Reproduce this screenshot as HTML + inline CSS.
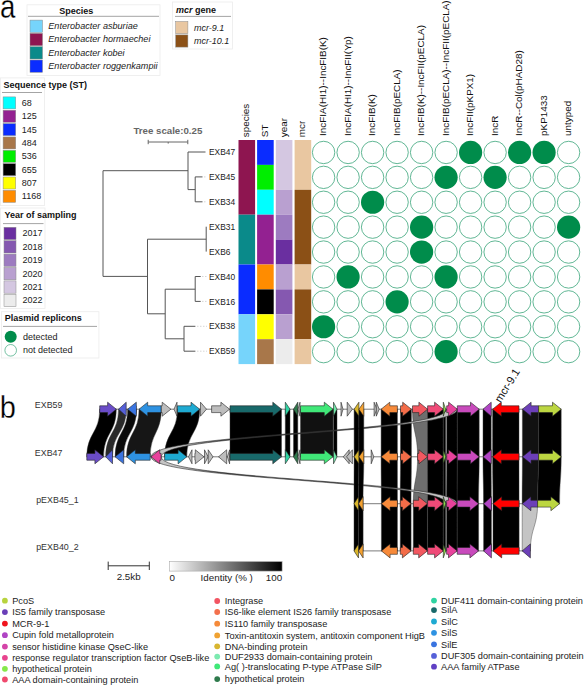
<!DOCTYPE html>
<html><head><meta charset="utf-8"><style>
html,body{margin:0;padding:0;background:#fff;width:584px;height:685px;overflow:hidden}
svg{display:block}
text{font-family:"Liberation Sans",sans-serif}
</style></head><body>
<svg width="584" height="685" viewBox="0 0 584 685" font-family="Liberation Sans, sans-serif">
<text transform="translate(0,17.9) scale(0.85,1)" x="0" y="0" font-size="32.5" fill="#000" stroke="#fff" stroke-width="0.3">a</text>
<rect x="27" y="4.8" width="133" height="70.7" fill="#fff" stroke="#ececec" stroke-width="0.8"/>
<text x="76.3" y="13.8" font-size="9" font-weight="bold" text-anchor="middle" fill="#111">Species</text>
<line x1="28" y1="16.3" x2="159" y2="16.3" stroke="#9a9a9a" stroke-width="0.9"/>
<rect x="30" y="20.1" width="12.5" height="12.3" fill="#76d4fb" stroke="#8a8a8a" stroke-width="0.5"/>
<text x="48.3" y="28.8" font-size="9.1" font-style="italic" fill="#222">Enterobacter asburiae</text>
<rect x="30" y="33.4" width="12.5" height="12.3" fill="#8e1550" stroke="#8a8a8a" stroke-width="0.5"/>
<text x="48.3" y="42.15" font-size="9.1" font-style="italic" fill="#222">Enterobacter hormaechei</text>
<rect x="30" y="46.7" width="12.5" height="12.3" fill="#0a8a8a" stroke="#8a8a8a" stroke-width="0.5"/>
<text x="48.3" y="55.5" font-size="9.1" font-style="italic" fill="#222">Enterobacter kobei</text>
<rect x="30" y="60" width="12.5" height="12.3" fill="#0a2cff" stroke="#8a8a8a" stroke-width="0.5"/>
<text x="48.3" y="68.85" font-size="9.1" font-style="italic" fill="#222">Enterobacter roggenkampii</text>
<rect x="172.5" y="2" width="60" height="47" fill="#fff" stroke="#ececec" stroke-width="0.8"/>
<text x="176" y="12.7" font-size="9" font-weight="bold" fill="#111"><tspan font-style="italic">mcr</tspan> gene</text>
<line x1="175" y1="16.4" x2="231" y2="16.4" stroke="#9a9a9a" stroke-width="0.9"/>
<rect x="175.7" y="21.5" width="12.2" height="12.2" fill="#e9c7a1" stroke="#8a8a8a" stroke-width="0.5"/>
<text x="194" y="30.6" font-size="9" font-style="italic" fill="#222">mcr-9.1</text>
<rect x="175.7" y="34.9" width="12.2" height="12.2" fill="#8b5016" stroke="#8a8a8a" stroke-width="0.5"/>
<text x="194" y="44" font-size="9" font-style="italic" fill="#222">mcr-10.1</text>
<rect x="0.5" y="77.9" width="44" height="127.7" fill="#fff" stroke="#ececec" stroke-width="0.8"/>
<text x="3.6" y="87.6" font-size="9" font-weight="bold" fill="#111">Sequence type (ST)</text>
<line x1="2" y1="92.5" x2="42" y2="92.5" stroke="#9a9a9a" stroke-width="0.9"/>
<rect x="3.1" y="96.9" width="12.6" height="12" fill="#00ffff" stroke="#8a8a8a" stroke-width="0.5"/>
<text x="21.8" y="105.9" font-size="9" fill="#222">68</text>
<rect x="3.1" y="110.25" width="12.6" height="12" fill="#932191" stroke="#8a8a8a" stroke-width="0.5"/>
<text x="21.8" y="119.25" font-size="9" fill="#222">125</text>
<rect x="3.1" y="123.6" width="12.6" height="12" fill="#0a2cff" stroke="#8a8a8a" stroke-width="0.5"/>
<text x="21.8" y="132.6" font-size="9" fill="#222">145</text>
<rect x="3.1" y="136.95" width="12.6" height="12" fill="#a8774a" stroke="#8a8a8a" stroke-width="0.5"/>
<text x="21.8" y="145.95" font-size="9" fill="#222">484</text>
<rect x="3.1" y="150.3" width="12.6" height="12" fill="#00ee00" stroke="#8a8a8a" stroke-width="0.5"/>
<text x="21.8" y="159.3" font-size="9" fill="#222">536</text>
<rect x="3.1" y="163.65" width="12.6" height="12" fill="#000000" stroke="#8a8a8a" stroke-width="0.5"/>
<text x="21.8" y="172.65" font-size="9" fill="#222">655</text>
<rect x="3.1" y="177" width="12.6" height="12" fill="#ffff00" stroke="#8a8a8a" stroke-width="0.5"/>
<text x="21.8" y="186" font-size="9" fill="#222">807</text>
<rect x="3.1" y="190.35" width="12.6" height="12" fill="#ff8c00" stroke="#8a8a8a" stroke-width="0.5"/>
<text x="21.8" y="199.35" font-size="9" fill="#222">1168</text>
<rect x="0.5" y="208" width="44.5" height="100.5" fill="#fff" stroke="#ececec" stroke-width="0.8"/>
<text x="4.5" y="217.8" font-size="9" font-weight="bold" fill="#111">Year of sampling</text>
<line x1="3" y1="223.6" x2="43.5" y2="223.6" stroke="#9a9a9a" stroke-width="0.9"/>
<rect x="4" y="227.3" width="12" height="12.3" fill="#6a2fa0" stroke="#8a8a8a" stroke-width="0.5"/>
<text x="22.5" y="236.3" font-size="9" fill="#222">2017</text>
<rect x="4" y="240.7" width="12" height="12.3" fill="#8558b0" stroke="#8a8a8a" stroke-width="0.5"/>
<text x="22.5" y="249.7" font-size="9" fill="#222">2018</text>
<rect x="4" y="254.1" width="12" height="12.3" fill="#9d7bc0" stroke="#8a8a8a" stroke-width="0.5"/>
<text x="22.5" y="263.1" font-size="9" fill="#222">2019</text>
<rect x="4" y="267.5" width="12" height="12.3" fill="#b9a0d0" stroke="#8a8a8a" stroke-width="0.5"/>
<text x="22.5" y="276.5" font-size="9" fill="#222">2020</text>
<rect x="4" y="280.9" width="12" height="12.3" fill="#d4c7e1" stroke="#8a8a8a" stroke-width="0.5"/>
<text x="22.5" y="289.9" font-size="9" fill="#222">2021</text>
<rect x="4" y="294.3" width="12" height="12.3" fill="#ececec" stroke="#8a8a8a" stroke-width="0.5"/>
<text x="22.5" y="303.3" font-size="9" fill="#222">2022</text>
<rect x="1.5" y="311.7" width="97.4" height="46.3" fill="#fff" stroke="#ececec" stroke-width="0.8"/>
<text x="4.7" y="321.4" font-size="9" font-weight="bold" fill="#111">Plasmid replicons</text>
<line x1="3" y1="326.4" x2="97" y2="326.4" stroke="#9a9a9a" stroke-width="0.9"/>
<circle cx="10.7" cy="336.7" r="6" fill="#008c4b"/>
<circle cx="10.7" cy="350.3" r="5.8" fill="#fff" stroke="#3aa57a" stroke-width="0.7"/>
<text x="23" y="339.7" font-size="9" fill="#222">detected</text>
<text x="23" y="353.3" font-size="9" fill="#222">not detected</text>
<text x="133.4" y="134.3" font-size="9.7" font-weight="bold" fill="#666">Tree scale:0.25</text>
<line x1="148.2" y1="142" x2="187.8" y2="142" stroke="#666" stroke-width="1"/>
<line x1="148.2" y1="139.8" x2="148.2" y2="144.2" stroke="#666" stroke-width="1"/>
<line x1="187.8" y1="139.8" x2="187.8" y2="144.2" stroke="#666" stroke-width="1"/>
<line x1="168.2" y1="142" x2="168.2" y2="143.6" stroke="#666" stroke-width="1"/>
<line x1="103" y1="170.7" x2="103" y2="276.4" stroke="#555" stroke-width="1"/>
<line x1="103" y1="170.7" x2="188" y2="170.7" stroke="#555" stroke-width="1"/>
<line x1="188" y1="152" x2="188" y2="189.6" stroke="#555" stroke-width="1"/>
<line x1="188" y1="152" x2="205.5" y2="152" stroke="#555" stroke-width="1"/>
<line x1="188" y1="189.6" x2="195.2" y2="189.6" stroke="#555" stroke-width="1"/>
<line x1="195.2" y1="176.9" x2="195.2" y2="201.8" stroke="#555" stroke-width="1"/>
<line x1="195.2" y1="176.9" x2="202.5" y2="176.9" stroke="#555" stroke-width="1"/>
<line x1="195.2" y1="201.8" x2="202.5" y2="201.8" stroke="#555" stroke-width="1"/>
<line x1="103" y1="276.4" x2="147.5" y2="276.4" stroke="#555" stroke-width="1"/>
<line x1="147.5" y1="239.2" x2="147.5" y2="313.8" stroke="#555" stroke-width="1"/>
<line x1="147.5" y1="239.2" x2="206.2" y2="239.2" stroke="#555" stroke-width="1"/>
<line x1="206.2" y1="226.7" x2="206.2" y2="251.6" stroke="#555" stroke-width="1"/>
<line x1="147.5" y1="313.8" x2="165.2" y2="313.8" stroke="#555" stroke-width="1"/>
<line x1="165.2" y1="289.2" x2="165.2" y2="338.8" stroke="#555" stroke-width="1"/>
<line x1="165.2" y1="289.2" x2="195.2" y2="289.2" stroke="#555" stroke-width="1"/>
<line x1="195.2" y1="276.5" x2="195.2" y2="301.4" stroke="#555" stroke-width="1"/>
<line x1="195.2" y1="276.5" x2="200.7" y2="276.5" stroke="#555" stroke-width="1"/>
<line x1="195.2" y1="301.4" x2="200.7" y2="301.4" stroke="#555" stroke-width="1"/>
<line x1="165.2" y1="338.8" x2="184" y2="338.8" stroke="#555" stroke-width="1"/>
<line x1="184" y1="326.3" x2="184" y2="351.2" stroke="#555" stroke-width="1"/>
<line x1="184" y1="326.3" x2="195.4" y2="326.3" stroke="#555" stroke-width="1"/>
<line x1="184" y1="351.2" x2="195.4" y2="351.2" stroke="#555" stroke-width="1"/>
<line x1="204" y1="176.9" x2="207" y2="176.9" stroke="#ccc" stroke-width="0.8" stroke-dasharray="1.5,1.5"/>
<line x1="204" y1="201.8" x2="207" y2="201.8" stroke="#ccc" stroke-width="0.8" stroke-dasharray="1.5,1.5"/>
<line x1="202" y1="276.5" x2="207" y2="276.5" stroke="#ccc" stroke-width="0.8" stroke-dasharray="1.5,1.5"/>
<line x1="202" y1="301.4" x2="207" y2="301.4" stroke="#ccc" stroke-width="0.8" stroke-dasharray="1.5,1.5"/>
<line x1="197" y1="326.3" x2="207" y2="326.3" stroke="#ccc" stroke-width="0.8" stroke-dasharray="1.5,1.5"/>
<line x1="197" y1="351.2" x2="207" y2="351.2" stroke="#ccc" stroke-width="0.8" stroke-dasharray="1.5,1.5"/>
<text x="209" y="155.1" font-size="8.4" fill="#222">EXB47</text>
<text x="209" y="180" font-size="8.4" fill="#222">EXB45</text>
<text x="209" y="204.9" font-size="8.4" fill="#222">EXB34</text>
<text x="209" y="229.8" font-size="8.4" fill="#222">EXB31</text>
<text x="209" y="254.7" font-size="8.4" fill="#222">EXB6</text>
<text x="209" y="279.6" font-size="8.4" fill="#222">EXB40</text>
<text x="209" y="304.5" font-size="8.4" fill="#222">EXB16</text>
<text x="209" y="329.4" font-size="8.4" fill="#222">EXB38</text>
<text x="209" y="354.3" font-size="8.4" fill="#222">EXB59</text>
<rect x="238.5" y="140" width="16.6" height="74.7" fill="#8e1550"/>
<rect x="238.5" y="214.7" width="16.6" height="49.8" fill="#0a8a8a"/>
<rect x="238.5" y="264.5" width="16.6" height="49.8" fill="#0a2cff"/>
<rect x="238.5" y="314.3" width="16.6" height="49.8" fill="#76d4fb"/>
<rect x="257.1" y="140" width="16.6" height="24.9" fill="#0a2cff"/>
<rect x="257.1" y="164.9" width="16.6" height="24.9" fill="#00ee00"/>
<rect x="257.1" y="189.8" width="16.6" height="24.9" fill="#00ffff"/>
<rect x="257.1" y="214.7" width="16.6" height="49.8" fill="#932191"/>
<rect x="257.1" y="264.5" width="16.6" height="24.9" fill="#ff8c00"/>
<rect x="257.1" y="289.4" width="16.6" height="24.9" fill="#000000"/>
<rect x="257.1" y="314.3" width="16.6" height="24.9" fill="#ffff00"/>
<rect x="257.1" y="339.2" width="16.6" height="24.9" fill="#a8774a"/>
<rect x="275.8" y="140" width="16.6" height="49.8" fill="#d4c7e1"/>
<rect x="275.8" y="189.8" width="16.6" height="24.9" fill="#b9a0d0"/>
<rect x="275.8" y="214.7" width="16.6" height="24.9" fill="#9d7bc0"/>
<rect x="275.8" y="239.6" width="16.6" height="24.9" fill="#6a2fa0"/>
<rect x="275.8" y="264.5" width="16.6" height="24.9" fill="#b9a0d0"/>
<rect x="275.8" y="289.4" width="16.6" height="24.9" fill="#8558b0"/>
<rect x="275.8" y="314.3" width="16.6" height="24.9" fill="#b9a0d0"/>
<rect x="275.8" y="339.2" width="16.6" height="24.9" fill="#ececec"/>
<rect x="294.6" y="140" width="16.6" height="49.8" fill="#e9c7a1"/>
<rect x="294.6" y="189.8" width="16.6" height="74.7" fill="#8b5016"/>
<rect x="294.6" y="264.5" width="16.6" height="24.9" fill="#e9c7a1"/>
<rect x="294.6" y="289.4" width="16.6" height="49.8" fill="#8b5016"/>
<rect x="294.6" y="339.2" width="16.6" height="24.9" fill="#e9c7a1"/>
<text transform="translate(249.3,137.2) rotate(-90)" font-size="9.9" fill="#111">species</text>
<text transform="translate(267.9,137.2) rotate(-90)" font-size="9.9" fill="#111">ST</text>
<text transform="translate(286.6,137.2) rotate(-90)" font-size="9.9" fill="#111">year</text>
<text transform="translate(305.4,137.2) rotate(-90)" font-size="9.9" fill="#111">mcr</text>
<text transform="translate(326.1,135.9) rotate(-90)" font-size="9.9" fill="#111">IncFIA(HI1)--IncFIB(K)</text>
<text transform="translate(350.6,135.9) rotate(-90)" font-size="9.9" fill="#111">IncFIA(HI1)--IncFII(Yp)</text>
<text transform="translate(375.1,135.9) rotate(-90)" font-size="9.9" fill="#111">IncFIB(K)</text>
<text transform="translate(399.6,135.9) rotate(-90)" font-size="9.9" fill="#111">IncFIB(pECLA)</text>
<text transform="translate(424.1,135.9) rotate(-90)" font-size="9.9" fill="#111">IncFIB(K)--IncFII(pECLA)</text>
<text transform="translate(448.6,135.9) rotate(-90)" font-size="9.9" fill="#111">IncFIB(pECLA)--IncFII(pECLA)</text>
<text transform="translate(473.1,135.9) rotate(-90)" font-size="9.9" fill="#111">IncFII(pKPX1)</text>
<text transform="translate(497.6,135.9) rotate(-90)" font-size="9.9" fill="#111">IncR</text>
<text transform="translate(522.1,135.9) rotate(-90)" font-size="9.9" fill="#111">IncR--Col(pHAD28)</text>
<text transform="translate(546.6,135.9) rotate(-90)" font-size="9.9" fill="#111">pKP1433</text>
<text transform="translate(571.1,135.9) rotate(-90)" font-size="9.9" fill="#111">untyped</text>
<circle cx="323.6" cy="152.45" r="11.2" fill="#fff" stroke="#3aa57a" stroke-width="0.8"/>
<circle cx="348.1" cy="152.45" r="11.2" fill="#fff" stroke="#3aa57a" stroke-width="0.8"/>
<circle cx="372.6" cy="152.45" r="11.2" fill="#fff" stroke="#3aa57a" stroke-width="0.8"/>
<circle cx="397.1" cy="152.45" r="11.2" fill="#fff" stroke="#3aa57a" stroke-width="0.8"/>
<circle cx="421.6" cy="152.45" r="11.2" fill="#fff" stroke="#3aa57a" stroke-width="0.8"/>
<circle cx="446.1" cy="152.45" r="11.2" fill="#fff" stroke="#3aa57a" stroke-width="0.8"/>
<circle cx="470.6" cy="152.45" r="11.6" fill="#008c4b"/>
<circle cx="495.1" cy="152.45" r="11.2" fill="#fff" stroke="#3aa57a" stroke-width="0.8"/>
<circle cx="519.6" cy="152.45" r="11.6" fill="#008c4b"/>
<circle cx="544.1" cy="152.45" r="11.6" fill="#008c4b"/>
<circle cx="568.6" cy="152.45" r="11.2" fill="#fff" stroke="#3aa57a" stroke-width="0.8"/>
<circle cx="323.6" cy="177.35" r="11.2" fill="#fff" stroke="#3aa57a" stroke-width="0.8"/>
<circle cx="348.1" cy="177.35" r="11.2" fill="#fff" stroke="#3aa57a" stroke-width="0.8"/>
<circle cx="372.6" cy="177.35" r="11.2" fill="#fff" stroke="#3aa57a" stroke-width="0.8"/>
<circle cx="397.1" cy="177.35" r="11.2" fill="#fff" stroke="#3aa57a" stroke-width="0.8"/>
<circle cx="421.6" cy="177.35" r="11.2" fill="#fff" stroke="#3aa57a" stroke-width="0.8"/>
<circle cx="446.1" cy="177.35" r="11.6" fill="#008c4b"/>
<circle cx="470.6" cy="177.35" r="11.2" fill="#fff" stroke="#3aa57a" stroke-width="0.8"/>
<circle cx="495.1" cy="177.35" r="11.6" fill="#008c4b"/>
<circle cx="519.6" cy="177.35" r="11.2" fill="#fff" stroke="#3aa57a" stroke-width="0.8"/>
<circle cx="544.1" cy="177.35" r="11.2" fill="#fff" stroke="#3aa57a" stroke-width="0.8"/>
<circle cx="568.6" cy="177.35" r="11.2" fill="#fff" stroke="#3aa57a" stroke-width="0.8"/>
<circle cx="323.6" cy="202.25" r="11.2" fill="#fff" stroke="#3aa57a" stroke-width="0.8"/>
<circle cx="348.1" cy="202.25" r="11.2" fill="#fff" stroke="#3aa57a" stroke-width="0.8"/>
<circle cx="372.6" cy="202.25" r="11.6" fill="#008c4b"/>
<circle cx="397.1" cy="202.25" r="11.2" fill="#fff" stroke="#3aa57a" stroke-width="0.8"/>
<circle cx="421.6" cy="202.25" r="11.2" fill="#fff" stroke="#3aa57a" stroke-width="0.8"/>
<circle cx="446.1" cy="202.25" r="11.2" fill="#fff" stroke="#3aa57a" stroke-width="0.8"/>
<circle cx="470.6" cy="202.25" r="11.2" fill="#fff" stroke="#3aa57a" stroke-width="0.8"/>
<circle cx="495.1" cy="202.25" r="11.2" fill="#fff" stroke="#3aa57a" stroke-width="0.8"/>
<circle cx="519.6" cy="202.25" r="11.2" fill="#fff" stroke="#3aa57a" stroke-width="0.8"/>
<circle cx="544.1" cy="202.25" r="11.2" fill="#fff" stroke="#3aa57a" stroke-width="0.8"/>
<circle cx="568.6" cy="202.25" r="11.2" fill="#fff" stroke="#3aa57a" stroke-width="0.8"/>
<circle cx="323.6" cy="227.15" r="11.2" fill="#fff" stroke="#3aa57a" stroke-width="0.8"/>
<circle cx="348.1" cy="227.15" r="11.2" fill="#fff" stroke="#3aa57a" stroke-width="0.8"/>
<circle cx="372.6" cy="227.15" r="11.2" fill="#fff" stroke="#3aa57a" stroke-width="0.8"/>
<circle cx="397.1" cy="227.15" r="11.2" fill="#fff" stroke="#3aa57a" stroke-width="0.8"/>
<circle cx="421.6" cy="227.15" r="11.6" fill="#008c4b"/>
<circle cx="446.1" cy="227.15" r="11.2" fill="#fff" stroke="#3aa57a" stroke-width="0.8"/>
<circle cx="470.6" cy="227.15" r="11.2" fill="#fff" stroke="#3aa57a" stroke-width="0.8"/>
<circle cx="495.1" cy="227.15" r="11.2" fill="#fff" stroke="#3aa57a" stroke-width="0.8"/>
<circle cx="519.6" cy="227.15" r="11.2" fill="#fff" stroke="#3aa57a" stroke-width="0.8"/>
<circle cx="544.1" cy="227.15" r="11.2" fill="#fff" stroke="#3aa57a" stroke-width="0.8"/>
<circle cx="568.6" cy="227.15" r="11.6" fill="#008c4b"/>
<circle cx="323.6" cy="252.05" r="11.2" fill="#fff" stroke="#3aa57a" stroke-width="0.8"/>
<circle cx="348.1" cy="252.05" r="11.2" fill="#fff" stroke="#3aa57a" stroke-width="0.8"/>
<circle cx="372.6" cy="252.05" r="11.2" fill="#fff" stroke="#3aa57a" stroke-width="0.8"/>
<circle cx="397.1" cy="252.05" r="11.2" fill="#fff" stroke="#3aa57a" stroke-width="0.8"/>
<circle cx="421.6" cy="252.05" r="11.6" fill="#008c4b"/>
<circle cx="446.1" cy="252.05" r="11.2" fill="#fff" stroke="#3aa57a" stroke-width="0.8"/>
<circle cx="470.6" cy="252.05" r="11.2" fill="#fff" stroke="#3aa57a" stroke-width="0.8"/>
<circle cx="495.1" cy="252.05" r="11.2" fill="#fff" stroke="#3aa57a" stroke-width="0.8"/>
<circle cx="519.6" cy="252.05" r="11.2" fill="#fff" stroke="#3aa57a" stroke-width="0.8"/>
<circle cx="544.1" cy="252.05" r="11.2" fill="#fff" stroke="#3aa57a" stroke-width="0.8"/>
<circle cx="568.6" cy="252.05" r="11.2" fill="#fff" stroke="#3aa57a" stroke-width="0.8"/>
<circle cx="323.6" cy="276.95" r="11.2" fill="#fff" stroke="#3aa57a" stroke-width="0.8"/>
<circle cx="348.1" cy="276.95" r="11.6" fill="#008c4b"/>
<circle cx="372.6" cy="276.95" r="11.2" fill="#fff" stroke="#3aa57a" stroke-width="0.8"/>
<circle cx="397.1" cy="276.95" r="11.2" fill="#fff" stroke="#3aa57a" stroke-width="0.8"/>
<circle cx="421.6" cy="276.95" r="11.2" fill="#fff" stroke="#3aa57a" stroke-width="0.8"/>
<circle cx="446.1" cy="276.95" r="11.6" fill="#008c4b"/>
<circle cx="470.6" cy="276.95" r="11.2" fill="#fff" stroke="#3aa57a" stroke-width="0.8"/>
<circle cx="495.1" cy="276.95" r="11.2" fill="#fff" stroke="#3aa57a" stroke-width="0.8"/>
<circle cx="519.6" cy="276.95" r="11.2" fill="#fff" stroke="#3aa57a" stroke-width="0.8"/>
<circle cx="544.1" cy="276.95" r="11.2" fill="#fff" stroke="#3aa57a" stroke-width="0.8"/>
<circle cx="568.6" cy="276.95" r="11.2" fill="#fff" stroke="#3aa57a" stroke-width="0.8"/>
<circle cx="323.6" cy="301.85" r="11.2" fill="#fff" stroke="#3aa57a" stroke-width="0.8"/>
<circle cx="348.1" cy="301.85" r="11.2" fill="#fff" stroke="#3aa57a" stroke-width="0.8"/>
<circle cx="372.6" cy="301.85" r="11.2" fill="#fff" stroke="#3aa57a" stroke-width="0.8"/>
<circle cx="397.1" cy="301.85" r="11.6" fill="#008c4b"/>
<circle cx="421.6" cy="301.85" r="11.2" fill="#fff" stroke="#3aa57a" stroke-width="0.8"/>
<circle cx="446.1" cy="301.85" r="11.2" fill="#fff" stroke="#3aa57a" stroke-width="0.8"/>
<circle cx="470.6" cy="301.85" r="11.2" fill="#fff" stroke="#3aa57a" stroke-width="0.8"/>
<circle cx="495.1" cy="301.85" r="11.2" fill="#fff" stroke="#3aa57a" stroke-width="0.8"/>
<circle cx="519.6" cy="301.85" r="11.2" fill="#fff" stroke="#3aa57a" stroke-width="0.8"/>
<circle cx="544.1" cy="301.85" r="11.2" fill="#fff" stroke="#3aa57a" stroke-width="0.8"/>
<circle cx="568.6" cy="301.85" r="11.2" fill="#fff" stroke="#3aa57a" stroke-width="0.8"/>
<circle cx="323.6" cy="326.75" r="11.6" fill="#008c4b"/>
<circle cx="348.1" cy="326.75" r="11.2" fill="#fff" stroke="#3aa57a" stroke-width="0.8"/>
<circle cx="372.6" cy="326.75" r="11.2" fill="#fff" stroke="#3aa57a" stroke-width="0.8"/>
<circle cx="397.1" cy="326.75" r="11.2" fill="#fff" stroke="#3aa57a" stroke-width="0.8"/>
<circle cx="421.6" cy="326.75" r="11.2" fill="#fff" stroke="#3aa57a" stroke-width="0.8"/>
<circle cx="446.1" cy="326.75" r="11.2" fill="#fff" stroke="#3aa57a" stroke-width="0.8"/>
<circle cx="470.6" cy="326.75" r="11.2" fill="#fff" stroke="#3aa57a" stroke-width="0.8"/>
<circle cx="495.1" cy="326.75" r="11.2" fill="#fff" stroke="#3aa57a" stroke-width="0.8"/>
<circle cx="519.6" cy="326.75" r="11.2" fill="#fff" stroke="#3aa57a" stroke-width="0.8"/>
<circle cx="544.1" cy="326.75" r="11.2" fill="#fff" stroke="#3aa57a" stroke-width="0.8"/>
<circle cx="568.6" cy="326.75" r="11.2" fill="#fff" stroke="#3aa57a" stroke-width="0.8"/>
<circle cx="323.6" cy="351.65" r="11.2" fill="#fff" stroke="#3aa57a" stroke-width="0.8"/>
<circle cx="348.1" cy="351.65" r="11.2" fill="#fff" stroke="#3aa57a" stroke-width="0.8"/>
<circle cx="372.6" cy="351.65" r="11.2" fill="#fff" stroke="#3aa57a" stroke-width="0.8"/>
<circle cx="397.1" cy="351.65" r="11.2" fill="#fff" stroke="#3aa57a" stroke-width="0.8"/>
<circle cx="421.6" cy="351.65" r="11.2" fill="#fff" stroke="#3aa57a" stroke-width="0.8"/>
<circle cx="446.1" cy="351.65" r="11.6" fill="#008c4b"/>
<circle cx="470.6" cy="351.65" r="11.2" fill="#fff" stroke="#3aa57a" stroke-width="0.8"/>
<circle cx="495.1" cy="351.65" r="11.2" fill="#fff" stroke="#3aa57a" stroke-width="0.8"/>
<circle cx="519.6" cy="351.65" r="11.2" fill="#fff" stroke="#3aa57a" stroke-width="0.8"/>
<circle cx="544.1" cy="351.65" r="11.2" fill="#fff" stroke="#3aa57a" stroke-width="0.8"/>
<circle cx="568.6" cy="351.65" r="11.2" fill="#fff" stroke="#3aa57a" stroke-width="0.8"/>
<text transform="translate(-0.3,417.8) scale(0.92,1)" x="0" y="0" font-size="31.5" fill="#000" stroke="#fff" stroke-width="0.3">b</text>
<text x="34.8" y="408.1" font-size="8.9" fill="#333">EXB59</text>
<text x="34.8" y="455.7" font-size="8.9" fill="#333">EXB47</text>
<text x="36.2" y="502.6" font-size="8.9" fill="#333">pEXB45_1</text>
<text x="36.2" y="549.8" font-size="8.9" fill="#333">pEXB40_2</text>
<path d="M99.7,409.2L116.3,409.2C116.3,433 103.6,433 103.6,456.8L86.8,456.8C86.8,433 99.7,433 99.7,409.2Z" fill="#000" stroke="#3a3a3a" stroke-width="0.45"/>
<path d="M118.5,409.2L126.2,409.2C126.2,433 112.5,433 112.5,456.8L105.7,456.8C105.7,433 118.5,433 118.5,409.2Z" fill="#2a2a2a" stroke="#3a3a3a" stroke-width="0.45"/>
<path d="M127.6,409.2L136.5,409.2C136.5,433 123.7,433 123.7,456.8L115.1,456.8C115.1,433 127.6,433 127.6,409.2Z" fill="#0a0a0a" stroke="#3a3a3a" stroke-width="0.45"/>
<path d="M139,409.2L161.3,409.2C161.3,433 150.2,433 150.2,456.8L126.6,456.8C126.6,433 139,433 139,409.2Z" fill="#161616" stroke="#3a3a3a" stroke-width="0.45"/>
<path d="M177.4,409.2L199.7,409.2C199.7,433 186.8,433 186.8,456.8L164.6,456.8C164.6,433 177.4,433 177.4,409.2Z" fill="#000" stroke="#3a3a3a" stroke-width="0.45"/>
<path d="M230,409.2L281.5,409.2C281.5,433 281.5,433 281.5,456.8L230,456.8C230,433 230,433 230,409.2Z" fill="#000" stroke="#3a3a3a" stroke-width="0.45"/>
<path d="M285.3,409.2L290,409.2C290,433 290,433 290,456.8L285.3,456.8C285.3,433 285.3,433 285.3,409.2Z" fill="#000" stroke="#3a3a3a" stroke-width="0.45"/>
<path d="M293.5,409.2L297.8,409.2C297.8,433 297.8,433 297.8,456.8L293.5,456.8C293.5,433 293.5,433 293.5,409.2Z" fill="#000" stroke="#3a3a3a" stroke-width="0.45"/>
<path d="M300.5,409.2L333,409.2C333,433 333,433 333,456.8L300.5,456.8C300.5,433 300.5,433 300.5,409.2Z" fill="#111" stroke="#3a3a3a" stroke-width="0.45"/>
<path d="M333.5,409.2L337,409.2C337,433 337,433 337,456.8L333.5,456.8C333.5,433 333.5,433 333.5,409.2Z" fill="#000" stroke="#3a3a3a" stroke-width="0.45"/>
<path d="M381.1,409.2L397.4,409.2C397.4,433 397.4,433 397.4,456.8L381.1,456.8C381.1,433 381.1,433 381.1,409.2Z" fill="#000" stroke="#3a3a3a" stroke-width="0.45"/>
<path d="M400.5,409.2L411.4,409.2C411.4,433 411.4,433 411.4,456.8L400.5,456.8C400.5,433 400.5,433 400.5,409.2Z" fill="#000" stroke="#3a3a3a" stroke-width="0.45"/>
<path d="M412.5,409.2L427.6,409.2C427.6,433 427.6,433 427.6,456.8L417.6,456.8C417.6,433 412.5,433 412.5,409.2Z" fill="#6e6e6e" stroke="#3a3a3a" stroke-width="0.45"/>
<path d="M427.6,409.2L443.3,409.2C443.3,433 443.3,433 443.3,456.8L427.6,456.8C427.6,433 427.6,433 427.6,409.2Z" fill="#000" stroke="#3a3a3a" stroke-width="0.45"/>
<path d="M443.3,409.2L445.7,409.2C445.7,433 445.7,433 445.7,456.8L443.3,456.8C443.3,433 443.3,433 443.3,409.2Z" fill="#000" stroke="#3a3a3a" stroke-width="0.45"/>
<path d="M446.7,409.2L457.3,409.2C457.3,433 457.3,433 457.3,456.8L446.7,456.8C446.7,433 446.7,433 446.7,409.2Z" fill="#000" stroke="#3a3a3a" stroke-width="0.45"/>
<path d="M457.3,409.2L479.2,409.2C479.2,433 479.2,433 479.2,456.8L457.3,456.8C457.3,433 457.3,433 457.3,409.2Z" fill="#000" stroke="#3a3a3a" stroke-width="0.45"/>
<path d="M483,409.2L491.2,409.2C491.2,433 491.2,433 491.2,456.8L483,456.8C483,433 483,433 483,409.2Z" fill="#000" stroke="#3a3a3a" stroke-width="0.45"/>
<path d="M492.6,409.2L519,409.2C519,433 519,433 519,456.8L492.6,456.8C492.6,433 492.6,433 492.6,409.2Z" fill="#000" stroke="#3a3a3a" stroke-width="0.45"/>
<path d="M522.4,409.2L538.6,409.2C538.6,433 538.6,433 538.6,456.8L522.4,456.8C522.4,433 522.4,433 522.4,409.2Z" fill="#111" stroke="#3a3a3a" stroke-width="0.45"/>
<path d="M538.6,409.2L561.2,409.2C561.2,433 561.2,433 561.2,456.8L538.6,456.8C538.6,433 538.6,433 538.6,409.2Z" fill="#000" stroke="#3a3a3a" stroke-width="0.45"/>
<path d="M381.1,456.8L397.4,456.8C397.4,480.25 397.4,480.25 397.4,503.7L381.4,503.7C381.4,480.25 381.1,480.25 381.1,456.8Z" fill="#000" stroke="#3a3a3a" stroke-width="0.45"/>
<path d="M400.5,456.8L411.4,456.8C411.4,480.25 411.1,480.25 411.1,503.7L400.3,503.7C400.3,480.25 400.5,480.25 400.5,456.8Z" fill="#000" stroke="#3a3a3a" stroke-width="0.45"/>
<path d="M417.6,456.8L427.6,456.8C427.6,480.25 427.4,480.25 427.4,503.7L413.3,503.7C413.3,480.25 417.6,480.25 417.6,456.8Z" fill="#6e6e6e" stroke="#3a3a3a" stroke-width="0.45"/>
<path d="M427.6,456.8L443.3,456.8C443.3,480.25 443.3,480.25 443.3,503.7L427.6,503.7C427.6,480.25 427.6,480.25 427.6,456.8Z" fill="#000" stroke="#3a3a3a" stroke-width="0.45"/>
<path d="M443.3,456.8L445.7,456.8C445.7,480.25 445.7,480.25 445.7,503.7L443.3,503.7C443.3,480.25 443.3,480.25 443.3,456.8Z" fill="#000" stroke="#3a3a3a" stroke-width="0.45"/>
<path d="M446.7,456.8L457.3,456.8C457.3,480.25 457.2,480.25 457.2,503.7L446.6,503.7C446.6,480.25 446.7,480.25 446.7,456.8Z" fill="#000" stroke="#3a3a3a" stroke-width="0.45"/>
<path d="M457.3,456.8L479.2,456.8C479.2,480.25 478.6,480.25 478.6,503.7L457.2,503.7C457.2,480.25 457.3,480.25 457.3,456.8Z" fill="#000" stroke="#3a3a3a" stroke-width="0.45"/>
<path d="M483,456.8L491.2,456.8C491.2,480.25 491.4,480.25 491.4,503.7L483.6,503.7C483.6,480.25 483,480.25 483,456.8Z" fill="#000" stroke="#3a3a3a" stroke-width="0.45"/>
<path d="M492.6,456.8L519,456.8C519,480.25 519.1,480.25 519.1,503.7L493,503.7C493,480.25 492.6,480.25 492.6,456.8Z" fill="#000" stroke="#3a3a3a" stroke-width="0.45"/>
<path d="M522.4,456.8L538.6,456.8C538.6,480.25 537.6,480.25 537.6,503.7L522.2,503.7C522.2,480.25 522.4,480.25 522.4,456.8Z" fill="#111" stroke="#3a3a3a" stroke-width="0.45"/>
<path d="M538.6,456.8L561.2,456.8C561.2,480.25 559.6,480.25 559.6,503.7L537.6,503.7C537.6,480.25 538.6,480.25 538.6,456.8Z" fill="#000" stroke="#3a3a3a" stroke-width="0.45"/>
<path d="M381.4,503.7L397.4,503.7C397.4,527.3 397.4,527.3 397.4,550.9L381.4,550.9C381.4,527.3 381.4,527.3 381.4,503.7Z" fill="#000" stroke="#3a3a3a" stroke-width="0.45"/>
<path d="M400.3,503.7L411.1,503.7C411.1,527.3 411.1,527.3 411.1,550.9L400.3,550.9C400.3,527.3 400.3,527.3 400.3,503.7Z" fill="#000" stroke="#3a3a3a" stroke-width="0.45"/>
<path d="M413.3,503.7L427.4,503.7C427.4,527.3 427.4,527.3 427.4,550.9L413.3,550.9C413.3,527.3 413.3,527.3 413.3,503.7Z" fill="#000" stroke="#3a3a3a" stroke-width="0.45"/>
<path d="M427.6,503.7L443.3,503.7C443.3,527.3 443.3,527.3 443.3,550.9L427.6,550.9C427.6,527.3 427.6,527.3 427.6,503.7Z" fill="#000" stroke="#3a3a3a" stroke-width="0.45"/>
<path d="M443.3,503.7L445.7,503.7C445.7,527.3 445.7,527.3 445.7,550.9L443.3,550.9C443.3,527.3 443.3,527.3 443.3,503.7Z" fill="#000" stroke="#3a3a3a" stroke-width="0.45"/>
<path d="M446.6,503.7L457.2,503.7C457.2,527.3 457.2,527.3 457.2,550.9L446.6,550.9C446.6,527.3 446.6,527.3 446.6,503.7Z" fill="#000" stroke="#3a3a3a" stroke-width="0.45"/>
<path d="M457.2,503.7L478.6,503.7C478.6,527.3 478.6,527.3 478.6,550.9L457.2,550.9C457.2,527.3 457.2,527.3 457.2,503.7Z" fill="#000" stroke="#3a3a3a" stroke-width="0.45"/>
<path d="M483.6,503.7L491.4,503.7C491.4,527.3 491.4,527.3 491.4,550.9L483.6,550.9C483.6,527.3 483.6,527.3 483.6,503.7Z" fill="#000" stroke="#3a3a3a" stroke-width="0.45"/>
<path d="M493,503.7L519.1,503.7C519.1,527.3 519.1,527.3 519.1,550.9L493,550.9C493,527.3 493,527.3 493,503.7Z" fill="#000" stroke="#3a3a3a" stroke-width="0.45"/>
<path d="M522.2,503.7L537.6,503.7C537.6,527.3 530.4,527.3 530.4,550.9L522.2,550.9C522.2,527.3 522.2,527.3 522.2,503.7Z" fill="#c4c4c4" stroke="#3a3a3a" stroke-width="0.45"/>
<defs><linearGradient id="xg" gradientUnits="userSpaceOnUse" x1="151" y1="0" x2="457" y2="0"><stop offset="0" stop-color="#c4c4c4"/><stop offset="0.1" stop-color="#c4c4c4"/><stop offset="0.25" stop-color="#333"/><stop offset="0.68" stop-color="#333"/><stop offset="0.86" stop-color="#c4c4c4"/><stop offset="1" stop-color="#c4c4c4"/></linearGradient></defs>
<path d="M446.7,409.2L457.3,409.2C457.3,433 161.1,433 161.1,456.8L151,456.8C151,433 446.7,433 446.7,409.2Z" fill="url(#xg)" stroke="#333" stroke-width="0.6"/>
<path d="M151,456.8L161.1,456.8C161.1,480.25 457.2,480.25 457.2,503.7L446.6,503.7C446.6,480.25 151,480.25 151,456.8Z" fill="url(#xg)" stroke="#333" stroke-width="0.6"/>
<path d="M354.1,409.2L358.9,409.2C358.9,433 358.9,433 358.9,456.8L354.1,456.8C354.1,433 354.1,433 354.1,409.2Z" fill="#000" stroke="#3a3a3a" stroke-width="0.45"/>
<path d="M358.9,409.2L363.8,409.2C363.8,433 363.8,433 363.8,456.8L358.9,456.8C358.9,433 358.9,433 358.9,409.2Z" fill="#000" stroke="#3a3a3a" stroke-width="0.45"/>
<path d="M354.1,456.8L358.9,456.8C358.9,480.25 358.5,480.25 358.5,503.7L354,503.7C354,480.25 354.1,480.25 354.1,456.8Z" fill="#000" stroke="#3a3a3a" stroke-width="0.45"/>
<path d="M358.9,456.8L363.8,456.8C363.8,480.25 363.1,480.25 363.1,503.7L358.5,503.7C358.5,480.25 358.9,480.25 358.9,456.8Z" fill="#000" stroke="#3a3a3a" stroke-width="0.45"/>
<path d="M354,503.7L358.5,503.7C358.5,527.3 358.5,527.3 358.5,550.9L354,550.9C354,527.3 354,527.3 354,503.7Z" fill="#000" stroke="#3a3a3a" stroke-width="0.45"/>
<path d="M358.5,503.7L363.1,503.7C363.1,527.3 363.1,527.3 363.1,550.9L358.5,550.9C358.5,527.3 358.5,527.3 358.5,503.7Z" fill="#000" stroke="#3a3a3a" stroke-width="0.45"/>
<line x1="99.7" y1="409.2" x2="561.2" y2="409.2" stroke="#444" stroke-width="0.7"/>
<line x1="86.8" y1="456.8" x2="561.2" y2="456.8" stroke="#444" stroke-width="0.7"/>
<line x1="354" y1="503.7" x2="559.6" y2="503.7" stroke="#444" stroke-width="0.7"/>
<line x1="354" y1="550.9" x2="530.4" y2="550.9" stroke="#444" stroke-width="0.7"/>
<path d="M99.7,405.8L107.6,405.8L107.6,402.2L116.3,409.2L107.6,416.2L107.6,412.6L99.7,412.6Z" fill="#6a4cc8" stroke="#222" stroke-width="0.6" stroke-linejoin="miter"/>
<path d="M126.2,402.2L118.5,409.2L126.2,416.2Z" fill="#5560d8" stroke="#222" stroke-width="0.6" stroke-linejoin="miter"/>
<path d="M136.5,405.8L136.3,405.8L136.3,402.2L127.6,409.2L136.3,416.2L136.3,412.6L136.5,412.6Z" fill="#3a74e0" stroke="#222" stroke-width="0.6" stroke-linejoin="miter"/>
<path d="M161.3,405.8L147.7,405.8L147.7,402.2L139,409.2L147.7,416.2L147.7,412.6L161.3,412.6Z" fill="#2e92e2" stroke="#222" stroke-width="0.6" stroke-linejoin="miter"/>
<path d="M161.3,405.8L162.2,405.8L162.2,402.2L170.9,409.2L162.2,416.2L162.2,412.6L161.3,412.6Z" fill="#bdbdbd" stroke="#222" stroke-width="0.6" stroke-linejoin="miter"/>
<path d="M177,402.2L174,409.2L177,416.2Z" fill="#bdbdbd" stroke="#222" stroke-width="0.6" stroke-linejoin="miter"/>
<path d="M177.4,405.8L191,405.8L191,402.2L199.7,409.2L191,416.2L191,412.6L177.4,412.6Z" fill="#1eaad2" stroke="#222" stroke-width="0.6" stroke-linejoin="miter"/>
<path d="M200.5,402.2L206.5,409.2L200.5,416.2Z" fill="#bdbdbd" stroke="#222" stroke-width="0.6" stroke-linejoin="miter"/>
<path d="M211.6,405.8L220.9,405.8L220.9,402.2L229.6,409.2L220.9,416.2L220.9,412.6L211.6,412.6Z" fill="#bdbdbd" stroke="#222" stroke-width="0.6" stroke-linejoin="miter"/>
<path d="M230,405.8L272.8,405.8L272.8,402.2L281.5,409.2L272.8,416.2L272.8,412.6L230,412.6Z" fill="#18696a" stroke="#222" stroke-width="0.6" stroke-linejoin="miter"/>
<path d="M285.3,402.2L290,409.2L285.3,416.2Z" fill="#2fd3a2" stroke="#222" stroke-width="0.6" stroke-linejoin="miter"/>
<path d="M297.8,402.2L293.5,409.2L297.8,416.2Z" fill="#2e7a4c" stroke="#222" stroke-width="0.6" stroke-linejoin="miter"/>
<path d="M300,402.2L298,409.2L300,416.2Z" fill="#bdbdbd" stroke="#222" stroke-width="0.6" stroke-linejoin="miter"/>
<path d="M300.5,405.8L324.3,405.8L324.3,402.2L333,409.2L324.3,416.2L324.3,412.6L300.5,412.6Z" fill="#40e878" stroke="#222" stroke-width="0.6" stroke-linejoin="miter"/>
<path d="M333.5,402.2L337,409.2L333.5,416.2Z" fill="#70e8a8" stroke="#222" stroke-width="0.6" stroke-linejoin="miter"/>
<path d="M341,402.2L343,409.2L341,416.2Z" fill="#bdbdbd" stroke="#222" stroke-width="0.6" stroke-linejoin="miter"/>
<path d="M347.2,402.2L352.4,409.2L347.2,416.2Z" fill="#bdbdbd" stroke="#222" stroke-width="0.6" stroke-linejoin="miter"/>
<path d="M358.9,402.2L354.1,409.2L358.9,416.2Z" fill="#d9b62c" stroke="#222" stroke-width="0.6" stroke-linejoin="miter"/>
<path d="M363.8,402.2L358.9,409.2L363.8,416.2Z" fill="#f4a232" stroke="#222" stroke-width="0.6" stroke-linejoin="miter"/>
<path d="M374.1,402.2L377,409.2L374.1,416.2Z" fill="#bdbdbd" stroke="#222" stroke-width="0.6" stroke-linejoin="miter"/>
<path d="M376.3,402.2L379.2,409.2L376.3,416.2Z" fill="#bdbdbd" stroke="#222" stroke-width="0.6" stroke-linejoin="miter"/>
<path d="M397.4,405.8L389.8,405.8L389.8,402.2L381.1,409.2L389.8,416.2L389.8,412.6L397.4,412.6Z" fill="#f78a3a" stroke="#222" stroke-width="0.6" stroke-linejoin="miter"/>
<path d="M400.5,405.8L402.7,405.8L402.7,402.2L411.4,409.2L402.7,416.2L402.7,412.6L400.5,412.6Z" fill="#f36c48" stroke="#222" stroke-width="0.6" stroke-linejoin="miter"/>
<path d="M412.5,405.8L418.9,405.8L418.9,402.2L427.6,409.2L418.9,416.2L418.9,412.6L412.5,412.6Z" fill="#f25860" stroke="#222" stroke-width="0.6" stroke-linejoin="miter"/>
<path d="M427.6,405.8L434.6,405.8L434.6,402.2L443.3,409.2L434.6,416.2L434.6,412.6L427.6,412.6Z" fill="#f04a78" stroke="#222" stroke-width="0.6" stroke-linejoin="miter"/>
<path d="M443.3,402.2L445.7,409.2L443.3,416.2Z" fill="#8be04a" stroke="#222" stroke-width="0.6" stroke-linejoin="miter"/>
<path d="M446.7,405.8L448.6,405.8L448.6,402.2L457.3,409.2L448.6,416.2L448.6,412.6L446.7,412.6Z" fill="#e8429c" stroke="#222" stroke-width="0.6" stroke-linejoin="miter"/>
<path d="M457.3,405.8L470.5,405.8L470.5,402.2L479.2,409.2L470.5,416.2L470.5,412.6L457.3,412.6Z" fill="#c84abc" stroke="#222" stroke-width="0.6" stroke-linejoin="miter"/>
<path d="M491.2,402.2L483,409.2L491.2,416.2Z" fill="#b044c4" stroke="#222" stroke-width="0.6" stroke-linejoin="miter"/>
<path d="M519,405.8L501.3,405.8L501.3,402.2L492.6,409.2L501.3,416.2L501.3,412.6L519,412.6Z" fill="#ff0000" stroke="#222" stroke-width="0.6" stroke-linejoin="miter"/>
<path d="M538.6,405.8L531.1,405.8L531.1,402.2L522.4,409.2L531.1,416.2L531.1,412.6L538.6,412.6Z" fill="#6c3fb8" stroke="#222" stroke-width="0.6" stroke-linejoin="miter"/>
<path d="M538.6,405.8L552.5,405.8L552.5,402.2L561.2,409.2L552.5,416.2L552.5,412.6L538.6,412.6Z" fill="#bcd641" stroke="#222" stroke-width="0.6" stroke-linejoin="miter"/>
<path d="M86.8,453.4L94.9,453.4L94.9,449.8L103.6,456.8L94.9,463.8L94.9,460.2L86.8,460.2Z" fill="#6a4cc8" stroke="#222" stroke-width="0.6" stroke-linejoin="miter"/>
<path d="M112.5,449.8L105.7,456.8L112.5,463.8Z" fill="#5560d8" stroke="#222" stroke-width="0.6" stroke-linejoin="miter"/>
<path d="M123.7,449.8L115.1,456.8L123.7,463.8Z" fill="#3a74e0" stroke="#222" stroke-width="0.6" stroke-linejoin="miter"/>
<path d="M150.2,453.4L135.3,453.4L135.3,449.8L126.6,456.8L135.3,463.8L135.3,460.2L150.2,460.2Z" fill="#2e92e2" stroke="#222" stroke-width="0.6" stroke-linejoin="miter"/>
<path d="M161.1,453.4L159.7,453.4L159.7,449.8L151,456.8L159.7,463.8L159.7,460.2L161.1,460.2Z" fill="#e8429c" stroke="#222" stroke-width="0.6" stroke-linejoin="miter"/>
<path d="M164.6,453.4L178.1,453.4L178.1,449.8L186.8,456.8L178.1,463.8L178.1,460.2L164.6,460.2Z" fill="#1eaad2" stroke="#222" stroke-width="0.6" stroke-linejoin="miter"/>
<path d="M192,449.8L188.5,456.8L192,463.8Z" fill="#bdbdbd" stroke="#222" stroke-width="0.6" stroke-linejoin="miter"/>
<path d="M194.9,453.4L195.3,453.4L195.3,449.8L204,456.8L195.3,463.8L195.3,460.2L194.9,460.2Z" fill="#bdbdbd" stroke="#222" stroke-width="0.6" stroke-linejoin="miter"/>
<path d="M204.5,449.8L208.2,456.8L204.5,463.8Z" fill="#bdbdbd" stroke="#222" stroke-width="0.6" stroke-linejoin="miter"/>
<path d="M208.2,449.8L213,456.8L208.2,463.8Z" fill="#bdbdbd" stroke="#222" stroke-width="0.6" stroke-linejoin="miter"/>
<path d="M226.7,449.8L218.5,456.8L226.7,463.8Z" fill="#bdbdbd" stroke="#222" stroke-width="0.6" stroke-linejoin="miter"/>
<path d="M229.6,449.8L227.4,456.8L229.6,463.8Z" fill="#bdbdbd" stroke="#222" stroke-width="0.6" stroke-linejoin="miter"/>
<path d="M230,453.4L272.8,453.4L272.8,449.8L281.5,456.8L272.8,463.8L272.8,460.2L230,460.2Z" fill="#18696a" stroke="#222" stroke-width="0.6" stroke-linejoin="miter"/>
<path d="M285.3,449.8L290,456.8L285.3,463.8Z" fill="#2fd3a2" stroke="#222" stroke-width="0.6" stroke-linejoin="miter"/>
<path d="M297.8,449.8L293.5,456.8L297.8,463.8Z" fill="#2e7a4c" stroke="#222" stroke-width="0.6" stroke-linejoin="miter"/>
<path d="M300,449.8L298,456.8L300,463.8Z" fill="#bdbdbd" stroke="#222" stroke-width="0.6" stroke-linejoin="miter"/>
<path d="M300.5,453.4L324.3,453.4L324.3,449.8L333,456.8L324.3,463.8L324.3,460.2L300.5,460.2Z" fill="#40e878" stroke="#222" stroke-width="0.6" stroke-linejoin="miter"/>
<path d="M333.5,449.8L337,456.8L333.5,463.8Z" fill="#70e8a8" stroke="#222" stroke-width="0.6" stroke-linejoin="miter"/>
<path d="M349.2,449.8L343.3,456.8L349.2,463.8Z" fill="#bdbdbd" stroke="#222" stroke-width="0.6" stroke-linejoin="miter"/>
<path d="M352.4,449.8L346.5,456.8L352.4,463.8Z" fill="#bdbdbd" stroke="#222" stroke-width="0.6" stroke-linejoin="miter"/>
<path d="M358.9,449.8L354.1,456.8L358.9,463.8Z" fill="#d9b62c" stroke="#222" stroke-width="0.6" stroke-linejoin="miter"/>
<path d="M363.8,449.8L358.9,456.8L363.8,463.8Z" fill="#f4a232" stroke="#222" stroke-width="0.6" stroke-linejoin="miter"/>
<path d="M371.2,449.8L373.8,456.8L371.2,463.8Z" fill="#bdbdbd" stroke="#222" stroke-width="0.6" stroke-linejoin="miter"/>
<path d="M397.4,453.4L389.8,453.4L389.8,449.8L381.1,456.8L389.8,463.8L389.8,460.2L397.4,460.2Z" fill="#f78a3a" stroke="#222" stroke-width="0.6" stroke-linejoin="miter"/>
<path d="M400.5,453.4L402.7,453.4L402.7,449.8L411.4,456.8L402.7,463.8L402.7,460.2L400.5,460.2Z" fill="#f36c48" stroke="#222" stroke-width="0.6" stroke-linejoin="miter"/>
<path d="M417.6,453.4L418.9,453.4L418.9,449.8L427.6,456.8L418.9,463.8L418.9,460.2L417.6,460.2Z" fill="#f25860" stroke="#222" stroke-width="0.6" stroke-linejoin="miter"/>
<path d="M427.6,453.4L434.6,453.4L434.6,449.8L443.3,456.8L434.6,463.8L434.6,460.2L427.6,460.2Z" fill="#f04a78" stroke="#222" stroke-width="0.6" stroke-linejoin="miter"/>
<path d="M443.3,449.8L445.7,456.8L443.3,463.8Z" fill="#8be04a" stroke="#222" stroke-width="0.6" stroke-linejoin="miter"/>
<path d="M446.7,453.4L448.6,453.4L448.6,449.8L457.3,456.8L448.6,463.8L448.6,460.2L446.7,460.2Z" fill="#e8429c" stroke="#222" stroke-width="0.6" stroke-linejoin="miter"/>
<path d="M457.3,453.4L470.5,453.4L470.5,449.8L479.2,456.8L470.5,463.8L470.5,460.2L457.3,460.2Z" fill="#c84abc" stroke="#222" stroke-width="0.6" stroke-linejoin="miter"/>
<path d="M491.2,449.8L483,456.8L491.2,463.8Z" fill="#b044c4" stroke="#222" stroke-width="0.6" stroke-linejoin="miter"/>
<path d="M519,453.4L501.3,453.4L501.3,449.8L492.6,456.8L501.3,463.8L501.3,460.2L519,460.2Z" fill="#ff0000" stroke="#222" stroke-width="0.6" stroke-linejoin="miter"/>
<path d="M538.6,453.4L531.1,453.4L531.1,449.8L522.4,456.8L531.1,463.8L531.1,460.2L538.6,460.2Z" fill="#6c3fb8" stroke="#222" stroke-width="0.6" stroke-linejoin="miter"/>
<path d="M538.6,453.4L552.5,453.4L552.5,449.8L561.2,456.8L552.5,463.8L552.5,460.2L538.6,460.2Z" fill="#bcd641" stroke="#222" stroke-width="0.6" stroke-linejoin="miter"/>
<path d="M358.5,496.7L354,503.7L358.5,510.7Z" fill="#d9b62c" stroke="#222" stroke-width="0.6" stroke-linejoin="miter"/>
<path d="M363.1,496.7L358.5,503.7L363.1,510.7Z" fill="#f4a232" stroke="#222" stroke-width="0.6" stroke-linejoin="miter"/>
<path d="M397.4,500.3L390.1,500.3L390.1,496.7L381.4,503.7L390.1,510.7L390.1,507.1L397.4,507.1Z" fill="#f78a3a" stroke="#222" stroke-width="0.6" stroke-linejoin="miter"/>
<path d="M400.3,500.3L402.4,500.3L402.4,496.7L411.1,503.7L402.4,510.7L402.4,507.1L400.3,507.1Z" fill="#f36c48" stroke="#222" stroke-width="0.6" stroke-linejoin="miter"/>
<path d="M413.3,500.3L418.7,500.3L418.7,496.7L427.4,503.7L418.7,510.7L418.7,507.1L413.3,507.1Z" fill="#f25860" stroke="#222" stroke-width="0.6" stroke-linejoin="miter"/>
<path d="M427.6,500.3L434.6,500.3L434.6,496.7L443.3,503.7L434.6,510.7L434.6,507.1L427.6,507.1Z" fill="#f04a78" stroke="#222" stroke-width="0.6" stroke-linejoin="miter"/>
<path d="M443.3,496.7L445.7,503.7L443.3,510.7Z" fill="#8be04a" stroke="#222" stroke-width="0.6" stroke-linejoin="miter"/>
<path d="M446.6,500.3L448.5,500.3L448.5,496.7L457.2,503.7L448.5,510.7L448.5,507.1L446.6,507.1Z" fill="#e8429c" stroke="#222" stroke-width="0.6" stroke-linejoin="miter"/>
<path d="M457.2,500.3L469.9,500.3L469.9,496.7L478.6,503.7L469.9,510.7L469.9,507.1L457.2,507.1Z" fill="#c84abc" stroke="#222" stroke-width="0.6" stroke-linejoin="miter"/>
<path d="M491.4,496.7L483.6,503.7L491.4,510.7Z" fill="#b044c4" stroke="#222" stroke-width="0.6" stroke-linejoin="miter"/>
<path d="M519.1,500.3L501.7,500.3L501.7,496.7L493,503.7L501.7,510.7L501.7,507.1L519.1,507.1Z" fill="#ff0000" stroke="#222" stroke-width="0.6" stroke-linejoin="miter"/>
<path d="M537.6,500.3L530.9,500.3L530.9,496.7L522.2,503.7L530.9,510.7L530.9,507.1L537.6,507.1Z" fill="#6c3fb8" stroke="#222" stroke-width="0.6" stroke-linejoin="miter"/>
<path d="M537.6,500.3L550.9,500.3L550.9,496.7L559.6,503.7L550.9,510.7L550.9,507.1L537.6,507.1Z" fill="#bcd641" stroke="#222" stroke-width="0.6" stroke-linejoin="miter"/>
<path d="M358.5,543.9L354,550.9L358.5,557.9Z" fill="#d9b62c" stroke="#222" stroke-width="0.6" stroke-linejoin="miter"/>
<path d="M363.1,543.9L358.5,550.9L363.1,557.9Z" fill="#f4a232" stroke="#222" stroke-width="0.6" stroke-linejoin="miter"/>
<path d="M397.4,547.5L390.1,547.5L390.1,543.9L381.4,550.9L390.1,557.9L390.1,554.3L397.4,554.3Z" fill="#f78a3a" stroke="#222" stroke-width="0.6" stroke-linejoin="miter"/>
<path d="M400.3,547.5L402.4,547.5L402.4,543.9L411.1,550.9L402.4,557.9L402.4,554.3L400.3,554.3Z" fill="#f36c48" stroke="#222" stroke-width="0.6" stroke-linejoin="miter"/>
<path d="M413.3,547.5L418.7,547.5L418.7,543.9L427.4,550.9L418.7,557.9L418.7,554.3L413.3,554.3Z" fill="#f25860" stroke="#222" stroke-width="0.6" stroke-linejoin="miter"/>
<path d="M427.6,547.5L434.6,547.5L434.6,543.9L443.3,550.9L434.6,557.9L434.6,554.3L427.6,554.3Z" fill="#f04a78" stroke="#222" stroke-width="0.6" stroke-linejoin="miter"/>
<path d="M443.3,543.9L445.7,550.9L443.3,557.9Z" fill="#8be04a" stroke="#222" stroke-width="0.6" stroke-linejoin="miter"/>
<path d="M446.6,547.5L448.5,547.5L448.5,543.9L457.2,550.9L448.5,557.9L448.5,554.3L446.6,554.3Z" fill="#e8429c" stroke="#222" stroke-width="0.6" stroke-linejoin="miter"/>
<path d="M457.2,547.5L469.9,547.5L469.9,543.9L478.6,550.9L469.9,557.9L469.9,554.3L457.2,554.3Z" fill="#c84abc" stroke="#222" stroke-width="0.6" stroke-linejoin="miter"/>
<path d="M491.4,543.9L483.6,550.9L491.4,557.9Z" fill="#b044c4" stroke="#222" stroke-width="0.6" stroke-linejoin="miter"/>
<path d="M519.1,547.5L501.7,547.5L501.7,543.9L493,550.9L501.7,557.9L501.7,554.3L519.1,554.3Z" fill="#ff0000" stroke="#222" stroke-width="0.6" stroke-linejoin="miter"/>
<path d="M530.4,543.9L522.2,550.9L530.4,557.9Z" fill="#6c3fb8" stroke="#222" stroke-width="0.6" stroke-linejoin="miter"/>
<text transform="translate(500.6,403.3) rotate(-58)" font-size="11" fill="#111">mcr-9.1</text>
<line x1="108.2" y1="565.8" x2="149.3" y2="565.8" stroke="#333" stroke-width="1"/>
<line x1="108.2" y1="561.6" x2="108.2" y2="570" stroke="#333" stroke-width="1"/>
<line x1="149.3" y1="561.6" x2="149.3" y2="570" stroke="#333" stroke-width="1"/>
<text x="128.7" y="580.2" font-size="9.8" text-anchor="middle" fill="#222">2.5kb</text>
<defs><linearGradient id="g" x1="0" x2="1" y1="0" y2="0"><stop offset="0" stop-color="#fff"/><stop offset="1" stop-color="#000"/></linearGradient></defs>
<rect x="169.3" y="561.6" width="112.8" height="9.5" fill="url(#g)" stroke="#aaa" stroke-width="0.6"/>
<text x="169.4" y="581.3" font-size="9.8" fill="#222">0</text>
<text x="200.6" y="581.3" font-size="9.8" fill="#222">Identity (% )</text>
<text x="282.2" y="581.3" font-size="9.8" text-anchor="end" fill="#222">100</text>
<circle cx="4.9" cy="600.7" r="2.9" fill="#b8d33e"/>
<text x="12.2" y="603.9" font-size="9.2" fill="#222">PcoS</text>
<circle cx="4.9" cy="612.1" r="2.9" fill="#6a3fb8"/>
<text x="12.2" y="615.3" font-size="9.2" fill="#222">IS5 family transposase</text>
<circle cx="4.9" cy="623.6" r="2.9" fill="#f0141e"/>
<text x="12.2" y="626.8" font-size="9.2" fill="#222">MCR-9-1</text>
<circle cx="4.9" cy="635.2" r="2.9" fill="#b044c4"/>
<text x="12.2" y="638.4" font-size="9.2" fill="#222">Cupin fold metalloprotein</text>
<circle cx="4.9" cy="646.6" r="2.9" fill="#d444a8"/>
<text x="12.2" y="649.8" font-size="9.2" fill="#222">sensor histidine kinase QseC-like</text>
<circle cx="4.9" cy="657.8" r="2.9" fill="#e8448e"/>
<text x="12.2" y="661" font-size="9.2" fill="#222">response regulator transcription factor QseB-like</text>
<circle cx="4.9" cy="668.8" r="2.9" fill="#86e84a"/>
<text x="12.2" y="672" font-size="9.2" fill="#222">hypothetical protein</text>
<circle cx="4.9" cy="679.5" r="2.9" fill="#f04a6e"/>
<text x="12.2" y="682.7" font-size="9.2" fill="#222">AAA domain-containing protein</text>
<circle cx="217.2" cy="601" r="2.9" fill="#f25462"/>
<text x="224.8" y="604.2" font-size="9.2" fill="#222">Integrase</text>
<circle cx="217.2" cy="612" r="2.9" fill="#f3704c"/>
<text x="224.8" y="615.2" font-size="9.2" fill="#222">IS6-like element IS26 family transposase</text>
<circle cx="217.2" cy="623.7" r="2.9" fill="#f58a3a"/>
<text x="224.8" y="626.9" font-size="9.2" fill="#222">IS110 family transposase</text>
<circle cx="217.2" cy="635.4" r="2.9" fill="#f0a232"/>
<text x="224.8" y="638.6" font-size="9.2" fill="#222">Toxin-antitoxin system, antitoxin component HigB</text>
<circle cx="217.2" cy="646.3" r="2.9" fill="#d8b630"/>
<text x="224.8" y="649.5" font-size="9.2" fill="#222">DNA-binding protein</text>
<circle cx="217.2" cy="656.6" r="2.9" fill="#7ceab0"/>
<text x="224.8" y="659.8" font-size="9.2" fill="#222">DUF2933 domain-containing protein</text>
<circle cx="217.2" cy="666.4" r="2.9" fill="#40e878"/>
<text x="224.8" y="669.6" font-size="9.2" fill="#222">Ag( )-translocating P-type ATPase SilP</text>
<circle cx="217.2" cy="679.1" r="2.9" fill="#2e7a4c"/>
<text x="224.8" y="682.3" font-size="9.2" fill="#222">hypothetical protein</text>
<circle cx="434" cy="600.6" r="2.9" fill="#2fd3a2"/>
<text x="441.1" y="603.8" font-size="9.2" fill="#222">DUF411 domain-containing protein</text>
<circle cx="434" cy="610.1" r="2.9" fill="#18696a"/>
<text x="441.1" y="613.3" font-size="9.2" fill="#222">SilA</text>
<circle cx="434" cy="621.5" r="2.9" fill="#1eaad2"/>
<text x="441.1" y="624.7" font-size="9.2" fill="#222">SilC</text>
<circle cx="434" cy="632.8" r="2.9" fill="#2e92e2"/>
<text x="441.1" y="636" font-size="9.2" fill="#222">SilS</text>
<circle cx="434" cy="644.3" r="2.9" fill="#3a74e0"/>
<text x="441.1" y="647.5" font-size="9.2" fill="#222">SilE</text>
<circle cx="434" cy="655.9" r="2.9" fill="#5560d8"/>
<text x="441.1" y="659.1" font-size="9.2" fill="#222">DUF305 domain-containing protein</text>
<circle cx="434" cy="666.7" r="2.9" fill="#6040c4"/>
<text x="441.1" y="669.9" font-size="9.2" fill="#222">AAA family ATPase</text>
</svg>
</body></html>
